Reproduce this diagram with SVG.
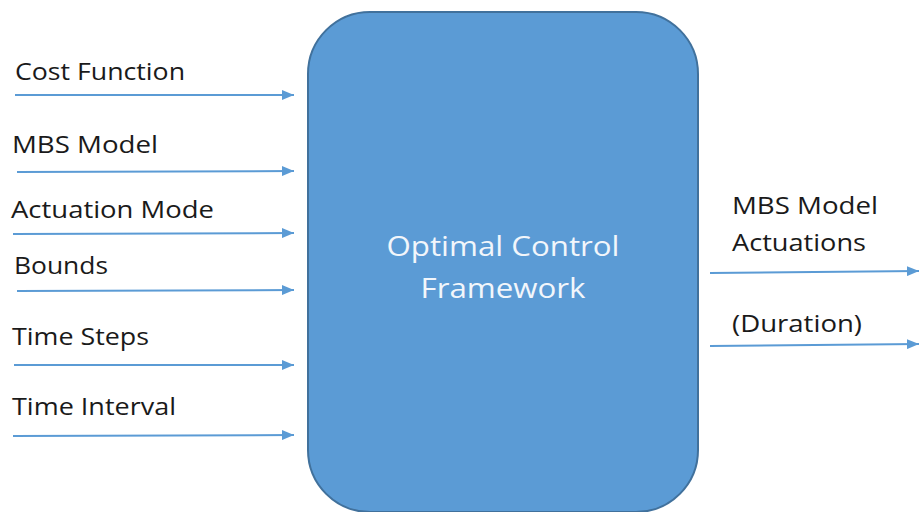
<svg xmlns="http://www.w3.org/2000/svg" width="919" height="512" viewBox="0 0 919 512">
<style>
.lbl{font-family:"Open Sans","Liberation Sans",sans-serif;font-size:24px;fill:#1a1a1a}
.ctr{font-family:"Open Sans","Liberation Sans",sans-serif;font-size:28px;fill:#f2f6fb;text-anchor:middle}
.arr{stroke:#5B9BD5;stroke-width:2;fill:none;marker-end:url(#ah)}
</style>
<defs>
<marker id="ah" viewBox="0 0 12 10" refX="12" refY="5" markerWidth="12" markerHeight="10" markerUnits="userSpaceOnUse" orient="auto">
<path d="M0,0 L12,5 L0,10 Z" fill="#5B9BD5"/>
</marker>
</defs>
<rect width="919" height="512" fill="#ffffff"/>
<g id="framework">
<rect x="308" y="12" width="390" height="500" rx="62" ry="62" fill="#5B9BD5" stroke="#41719C" stroke-width="2"/>
<text class="ctr" x="503" y="256" textLength="233" lengthAdjust="spacingAndGlyphs">Optimal Control</text>
<text class="ctr" x="503" y="298" textLength="165" lengthAdjust="spacingAndGlyphs">Framework</text>
</g>
<g id="in-cost"><text class="lbl" x="15" y="80" textLength="170" lengthAdjust="spacingAndGlyphs">Cost Function</text></g>
<g id="in-mbs"><text class="lbl" x="12" y="153" textLength="146" lengthAdjust="spacingAndGlyphs">MBS Model</text></g>
<g id="in-actuation"><text class="lbl" x="11" y="218" textLength="203" lengthAdjust="spacingAndGlyphs">Actuation Mode</text></g>
<g id="in-bounds"><text class="lbl" x="14" y="274" textLength="94" lengthAdjust="spacingAndGlyphs">Bounds</text></g>
<g id="in-steps"><text class="lbl" x="12" y="345" textLength="137" lengthAdjust="spacingAndGlyphs">Time Steps</text></g>
<g id="in-interval"><text class="lbl" x="12" y="415" textLength="164" lengthAdjust="spacingAndGlyphs">Time Interval</text></g>
<g id="out-actuations"><text class="lbl" x="732" y="214" textLength="146" lengthAdjust="spacingAndGlyphs">MBS Model</text><text class="lbl" x="732" y="251" textLength="134" lengthAdjust="spacingAndGlyphs">Actuations</text></g>
<g id="out-duration"><text class="lbl" x="732" y="332" textLength="130" lengthAdjust="spacingAndGlyphs">(Duration)</text></g>
<g id="connectors">
<line class="arr" x1="15" y1="95" x2="294" y2="95"/>
<line class="arr" x1="17" y1="172" x2="294" y2="171"/>
<line class="arr" x1="13" y1="234" x2="294" y2="233"/>
<line class="arr" x1="17" y1="291" x2="294" y2="290"/>
<line class="arr" x1="14" y1="365" x2="294" y2="365"/>
<line class="arr" x1="13" y1="436" x2="294" y2="435"/>
<line class="arr" x1="710" y1="273" x2="919" y2="271"/>
<line class="arr" x1="710" y1="346" x2="919" y2="344"/>
</g>
</svg>
